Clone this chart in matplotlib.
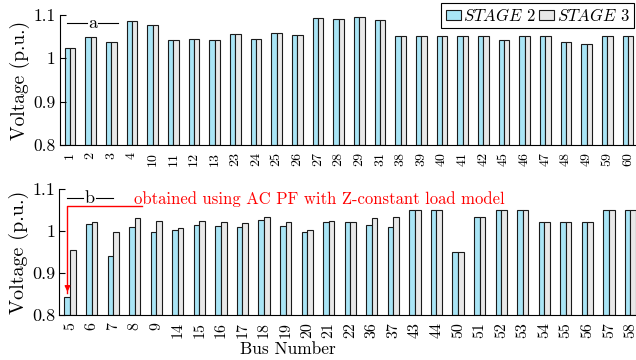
import matplotlib

matplotlib.use("Agg")
import matplotlib.pyplot as plt
import numpy as np

plt.rcParams["font.family"] = "cmr10"
plt.rcParams["mathtext.fontset"] = "cm"
plt.rcParams["axes.formatter.use_mathtext"] = True

# panel a: buses where stage 2 and stage 3 agree
buses_a = ["1", "2", "3", "4", "10", "11", "12", "13", "23", "24", "25", "26", "27", "28",
           "29", "31", "38", "39", "40", "41", "42", "45", "46", "47", "48", "49", "59", "60"]
stage2_a = [1.024, 1.048, 1.037, 1.086, 1.076, 1.041, 1.044, 1.043, 1.056, 1.045, 1.058, 1.054,
            1.092, 1.089, 1.094, 1.087, 1.051, 1.051, 1.051, 1.051, 1.051, 1.041, 1.051, 1.051,
            1.038, 1.032, 1.051, 1.051]
stage3_a = list(stage2_a)

# panel b: buses where the stages differ
buses_b = ["5", "6", "7", "8", "9", "14", "15", "16", "17", "18", "19", "20", "21", "22",
           "36", "37", "43", "44", "50", "51", "52", "53", "54", "55", "56", "57", "58"]
stage2_b = [0.843, 1.017, 0.940, 1.010, 0.998, 1.002, 1.014, 1.013, 1.010, 1.028, 1.012, 0.998,
            1.021, 1.021, 1.014, 1.011, 1.050, 1.050, 0.950, 1.034, 1.050, 1.050, 1.022, 1.023,
            1.022, 1.050, 1.050]
stage3_b = [0.956, 1.023, 0.998, 1.031, 1.025, 1.009, 1.024, 1.023, 1.019, 1.033, 1.021, 1.002,
            1.024, 1.023, 1.031, 1.033, 1.050, 1.050, 0.950, 1.034, 1.050, 1.050, 1.022, 1.023,
            1.022, 1.050, 1.050]

yticks = [0.8, 0.9, 1.0, 1.1]
ytick_labels = ["0.8", "0.9", "1", "1.1"]

c_s2 = "#a9e5f6"
c_s3 = "#e8e8e8"
edge = "#1a1a1a"
bw = 0.26

fig = plt.figure(figsize=(6.36, 3.6), dpi=100)
ax_a = fig.add_axes([0.0938, 0.5964, 0.9097, 0.3628])
ax_b = fig.add_axes([0.0931, 0.1242, 0.9152, 0.3500])


def draw(ax, buses, s2, s3, xfs, yfs, lfs):
    x = np.arange(1, len(buses) + 1)
    b2 = ax.bar(x - bw / 2, np.array(s2) - 0.8, bw, bottom=0.8, color=c_s2,
                edgecolor=edge, linewidth=0.8, label=r"$STAGE$ 2")
    b3 = ax.bar(x + bw / 2, np.array(s3) - 0.8, bw, bottom=0.8, color=c_s3,
                edgecolor=edge, linewidth=0.8, label=r"$STAGE$ 3")
    ax.set_xlim(0.5, len(buses) + 0.5)
    ax.set_ylim(0.8, 1.1)
    ax.set_xticks(x)
    ax.set_xticklabels(buses, rotation=90, fontsize=xfs)
    ax.set_yticks(yticks)
    ax.set_yticklabels(ytick_labels, fontsize=yfs)
    ax.tick_params(axis="x", length=0, pad=5)
    ax.tick_params(axis="y", direction="in", length=4, width=0.8, pad=3)
    ax.spines["top"].set_visible(False)
    ax.spines["right"].set_visible(False)
    for s in ("left", "bottom"):
        ax.spines[s].set_linewidth(0.8)
    ax.set_ylabel("Voltage (p.u.)", fontsize=lfs, labelpad=2)
    return b2, b3


def tag(ax, letter, l0, l1, cx, r0, r1, y):
    ax.plot([l0, l1], [y, y], color="k", lw=0.8, transform=ax.transAxes, clip_on=False)
    ax.plot([r0, r1], [y, y], color="k", lw=0.8, transform=ax.transAxes, clip_on=False)
    ax.text(cx, y, letter, transform=ax.transAxes, ha="center", va="center", fontsize=13)


b2, b3 = draw(ax_a, buses_a, stage2_a, stage3_a, 10, 12.5, 14)
draw(ax_b, buses_b, stage2_b, stage3_b, 11.5, 13, 14.5)

tag(ax_a, "a", 0.012, 0.047, 0.057, 0.066, 0.100, 0.935)
tag(ax_b, "b", 0.013, 0.041, 0.052, 0.064, 0.093, 0.930)

ax_a.legend(handles=[b2, b3], loc="upper right", ncol=2, fontsize=12,
            bbox_to_anchor=(634 / 636, 357 / 360), bbox_transform=fig.transFigure,
            borderaxespad=0, frameon=True, fancybox=False, edgecolor="k",
            handlelength=0.9, handleheight=0.5, handletextpad=0.15, columnspacing=0.2,
            borderpad=0.25, framealpha=1)
ax_a.get_legend().get_frame().set_linewidth(0.8)

# red note in panel b
ax_b.plot([0.0142, 0.0142, 0.142], [0.177, 0.8675, 0.8675], color="red", lw=1,
          transform=ax_b.transAxes, clip_on=False)
ax_b.annotate("", xy=(0.0142, 0.165), xytext=(0.0142, 0.25),
              xycoords="axes fraction", textcoords="axes fraction",
              arrowprops=dict(arrowstyle="-|>", color="red", lw=1, mutation_scale=8))
ax_b.text(0.1285, 0.925, "obtained using AC PF with Z-constant load model", color="red",
          transform=ax_b.transAxes, ha="left", va="center", fontsize=12)

ax_b.set_xlabel("Bus Number", fontsize=12.5)
ax_b.xaxis.label.set_va("center")
ax_b.xaxis.set_label_coords(0.393, -0.271)

fig.savefig("out.png", dpi=100)
